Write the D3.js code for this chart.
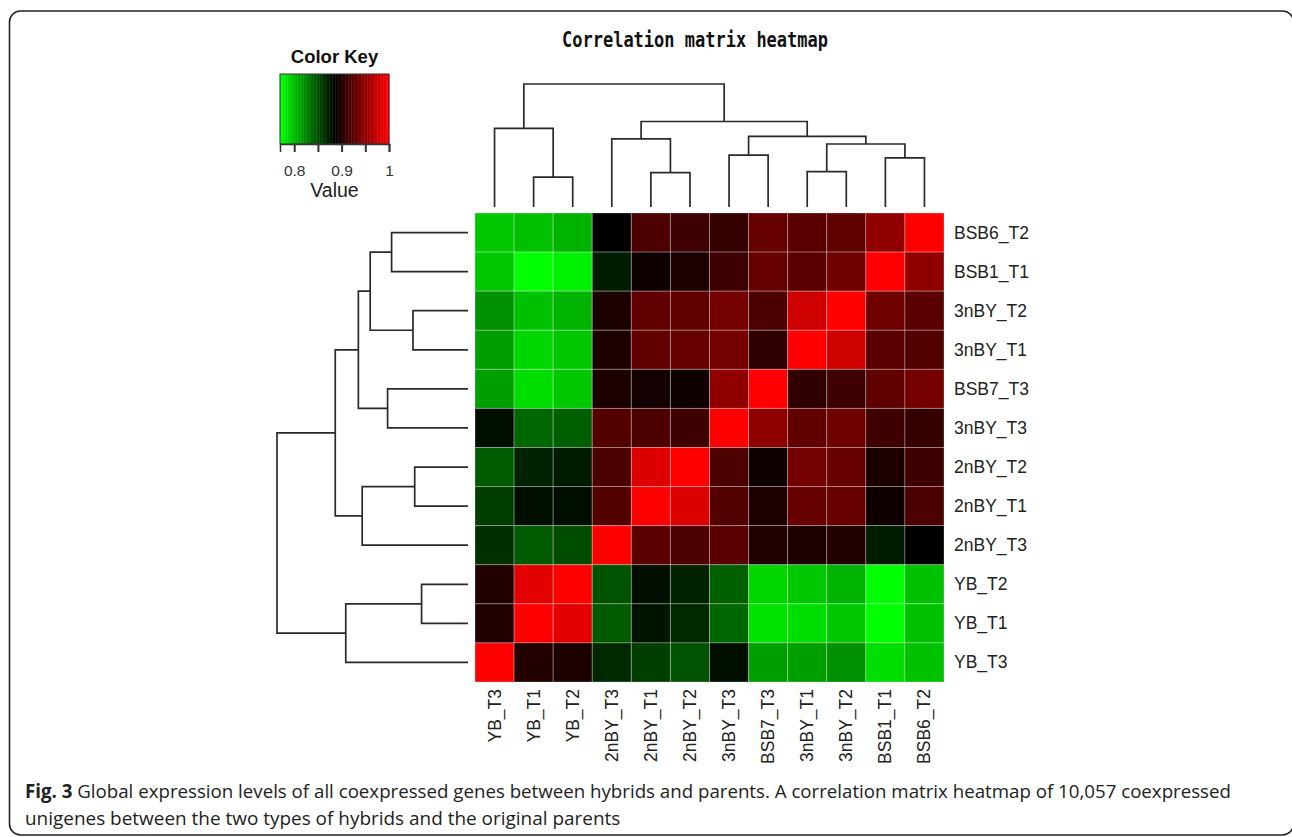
<!DOCTYPE html>
<html>
<head>
<meta charset="utf-8">
<script src="https://cdn.jsdelivr.net/npm/d3@7"></script>
<style>
  html, body { margin: 0; padding: 0; background: #fff; }
  svg { display: block; }
</style>
</head>
<body>
<svg id="chart" width="1292" height="837"></svg>
<script>
// ---------- DATA ----------
const colLabels = ["YB_T3","YB_T1","YB_T2","2nBY_T3","2nBY_T1","2nBY_T2","3nBY_T3","BSB7_T3","3nBY_T1","3nBY_T2","BSB1_T1","BSB6_T2"];
const rowLabels = ["BSB6_T2","BSB1_T1","3nBY_T2","3nBY_T1","BSB7_T3","3nBY_T3","2nBY_T2","2nBY_T1","2nBY_T3","YB_T2","YB_T1","YB_T3"];

// correlation values, rows top->bottom (rowLabels), columns left->right (colLabels)
const corrRows = [
  [0.795,0.798,0.806,0.885,0.918,0.914,0.911,0.932,0.925,0.928,0.950,1.000],
  [0.795,0.770,0.777,0.873,0.892,0.896,0.912,0.932,0.925,0.933,1.000,0.950],
  [0.820,0.798,0.806,0.897,0.928,0.928,0.936,0.918,0.977,1.000,0.933,0.926],
  [0.813,0.791,0.795,0.897,0.928,0.932,0.936,0.907,1.000,0.977,0.926,0.921],
  [0.813,0.788,0.795,0.897,0.893,0.892,0.950,1.000,0.907,0.914,0.928,0.936],
  [0.878,0.838,0.842,0.921,0.918,0.914,1.000,0.950,0.928,0.933,0.914,0.911],
  [0.845,0.871,0.872,0.918,0.982,1.000,0.918,0.892,0.936,0.932,0.896,0.914],
  [0.858,0.878,0.880,0.921,1.000,0.982,0.921,0.896,0.932,0.932,0.892,0.918],
  [0.865,0.845,0.851,1.000,0.925,0.918,0.925,0.899,0.898,0.899,0.874,0.885],
  [0.899,0.986,1.000,0.849,0.878,0.871,0.842,0.791,0.795,0.806,0.770,0.798],
  [0.899,1.000,0.986,0.845,0.876,0.867,0.838,0.784,0.788,0.795,0.770,0.798],
  [1.000,0.899,0.896,0.867,0.858,0.849,0.880,0.813,0.813,0.820,0.788,0.798]
];

// hierarchical clustering (hclust-style merge table; negative = leaf index in colLabels, 1-based)
const mergeLeft    = [-2, -5, -9, -11, -7, 3, -4, 5, -1, 7, 9];
const mergeRight   = [-3, -6, -10, -12, -8, 4, 2, 6, 1, 8, 10];
const mergeHeights = [0.243, 0.279, 0.288, 0.400, 0.421, 0.512, 0.554, 0.574, 0.640, 0.695, 1.000];

// colour key
const keyDomain = [0.770, 1.000];
const keyTicks = [0.80, 0.85, 0.90, 0.95, 1.00];
const keyTickLabels = ["0.8", "", "0.9", "", "1"];
const nColors = 75;

const titleText = "Correlation matrix heatmap";
const captionBold = "Fig. 3";
const captionLine1 = " Global expression levels of all coexpressed genes between hybrids and parents. A correlation matrix heatmap of 10,057 coexpressed";
const captionLine2 = "unigenes between the two types of hybrids and the original parents";

// ---------- DRAW ----------
const svg = d3.select("#chart");
const sans = "'Liberation Sans', Arial, Helvetica, sans-serif";

// frame
svg.append("rect")
  .attr("x", 9.5).attr("y", 11).attr("width", 1284).attr("height", 824)
  .attr("rx", 11).attr("ry", 11)
  .attr("fill", "none").attr("stroke", "#222").attr("stroke-width", 1.6);

// colours: green -> black -> red
const palette = d3.range(nColors).map(i => {
  const t = i / (nColors - 1);
  return t < 0.5 ? d3.rgb(0, Math.round(255 * (1 - 2 * t)), 0).formatHex()
                 : d3.rgb(Math.round(255 * (2 * t - 1)), 0, 0).formatHex();
});
const color = d3.scaleQuantize().domain(keyDomain).range(palette);

// heatmap scales
const x = d3.scaleBand().domain(colLabels).range([475, 944]).padding(0);
const y = d3.scaleBand().domain(rowLabels).range([213, 682]).padding(0);
const xIdx = d3.scaleLinear().domain([-0.5, colLabels.length - 0.5]).range([475, 944]);
const yIdx = d3.scaleLinear().domain([-0.5, rowLabels.length - 0.5]).range([213, 682]);

const cells = [];
corrRows.forEach((row, r) => row.forEach((v, c) => cells.push({ r: rowLabels[r], c: colLabels[c], v })));

svg.append("g").selectAll("rect").data(cells).join("rect")
  .attr("x", d => x(d.c)).attr("y", d => y(d.r))
  .attr("width", x.bandwidth()).attr("height", y.bandwidth())
  .attr("fill", d => color(d.v))
  .attr("stroke", "rgba(255,255,255,0.28)").attr("stroke-width", 1);

// row labels
svg.append("g").selectAll("text").data(rowLabels).join("text")
  .attr("x", 954).attr("y", d => y(d) + y.bandwidth() / 2)
  .attr("dominant-baseline", "central")
  .attr("font-family", sans).attr("font-size", 17.5).attr("fill", "#222")
  .text(d => d);

// column labels (rotated)
svg.append("g").selectAll("text").data(colLabels).join("text")
  .attr("transform", d => `translate(${x(d) + x.bandwidth() / 2},689) rotate(-90)`)
  .attr("text-anchor", "end").attr("dominant-baseline", "central")
  .attr("font-family", sans).attr("font-size", 17.5).attr("fill", "#222")
  .text(d => d);

// build tree from merge table
const merged = [];
function getNode(k) {
  if (k < 0) return { name: colLabels[-k - 1], h: 0 };
  return merged[k - 1];
}
mergeLeft.forEach((l, i) => {
  merged.push({ children: [getNode(l), getNode(mergeRight[i])], h: mergeHeights[i] });
});
const root = d3.hierarchy(merged[merged.length - 1]);
root.eachAfter(n => {
  if (!n.children) {
    n.colPos = colLabels.indexOf(n.data.name);
    n.rowPos = rowLabels.indexOf(n.data.name);
  } else {
    n.colPos = d3.mean(n.children, c => c.colPos);
    n.rowPos = d3.mean(n.children, c => c.rowPos);
  }
});
const internal = root.descendants().filter(n => n.children);

// top dendrogram
const hTop = d3.scaleLinear().domain([0, 1]).range([207, 84]);
svg.append("g").selectAll("path").data(internal).join("path")
  .attr("d", n => {
    const [a, b] = n.children;
    return `M${xIdx(a.colPos)},${hTop(a.data.h)}V${hTop(n.data.h)}H${xIdx(b.colPos)}V${hTop(b.data.h)}`;
  })
  .attr("fill", "none").attr("stroke", "#2a2a2a").attr("stroke-width", 1.7);

// left dendrogram
const hLeft = d3.scaleLinear().domain([0, 1]).range([468, 277]);
svg.append("g").selectAll("path").data(internal).join("path")
  .attr("d", n => {
    const [a, b] = n.children;
    return `M${hLeft(a.data.h)},${yIdx(a.rowPos)}H${hLeft(n.data.h)}V${yIdx(b.rowPos)}H${hLeft(b.data.h)}`;
  })
  .attr("fill", "none").attr("stroke", "#2a2a2a").attr("stroke-width", 1.7);

// title
svg.append("text")
  .attr("x", 562).attr("y", 47)
  .attr("font-family", "'DejaVu Sans Mono', 'Liberation Mono', monospace")
  .attr("font-weight", "bold").attr("font-size", 22)
  .attr("textLength", 266).attr("lengthAdjust", "spacingAndGlyphs")
  .attr("fill", "#111")
  .text(titleText);

// colour key
const kx = d3.scaleLinear().domain(keyDomain).range([280, 389]);
const keyG = svg.append("g");
keyG.selectAll("rect").data(palette).join("rect")
  .attr("x", d => kx(color.invertExtent(d)[0]))
  .attr("width", d => kx(color.invertExtent(d)[1]) - kx(color.invertExtent(d)[0]) + 0.4)
  .attr("y", 74).attr("height", 70)
  .attr("fill", d => d);
keyG.append("rect").attr("x", 280).attr("y", 74).attr("width", 109).attr("height", 70)
  .attr("fill", "none").attr("stroke", "#333").attr("stroke-width", 1);

const keyAxis = svg.append("g").attr("transform", "translate(0,144)")
  .call(d3.axisBottom(kx).tickValues(keyTicks).tickSize(8).tickPadding(13)
    .tickFormat((d, i) => keyTickLabels[i]));
keyAxis.select(".domain").attr("stroke", "#333").attr("stroke-width", 1.5);
keyAxis.selectAll(".tick line").attr("stroke", "#333").attr("stroke-width", 2);
keyAxis.selectAll(".tick text").attr("font-family", sans).attr("font-size", 15.5).attr("fill", "#333");

svg.append("text").attr("x", 334.5).attr("y", 63).attr("text-anchor", "middle")
  .attr("font-family", sans).attr("font-weight", "bold").attr("font-size", 18.5).attr("fill", "#111")
  .text("Color Key");
svg.append("text").attr("x", 334.5).attr("y", 197).attr("text-anchor", "middle")
  .attr("font-family", sans).attr("font-size", 19.5).attr("fill", "#222")
  .text("Value");

// caption
const capFont = "'Open Sans', 'Noto Sans', sans-serif";
const cap1 = svg.append("text").attr("x", 25).attr("y", 798)
  .attr("font-family", capFont).attr("font-size", 17).attr("fill", "#222");
cap1.append("tspan").attr("font-weight", "bold").text(captionBold);
cap1.append("tspan").text(captionLine1);
const cap2 = svg.append("text").attr("x", 25).attr("y", 825)
  .attr("font-family", capFont).attr("font-size", 17).attr("fill", "#222")
  .text(captionLine2);
// fit caption widths to the reference
function fit(sel, target) {
  const w = sel.node().getComputedTextLength();
  if (w > 0) sel.attr("font-size", 17 * target / w);
}
fit(cap1, 1207);
fit(cap2, 596);
</script>
</body>
</html>
